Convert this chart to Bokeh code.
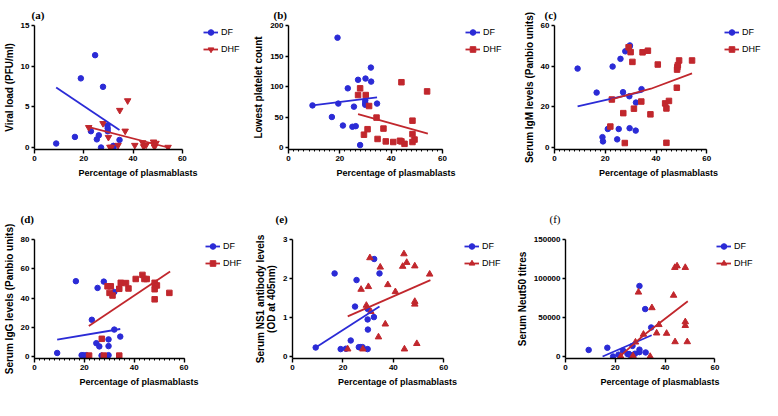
from bokeh.plotting import figure
from bokeh.models import (Range1d, SingleIntervalTicker, BasicTickFormatter,
                          Legend, LegendItem)
from bokeh.layouts import row, column
from bokeh.embed import file_html
from bokeh.resources import INLINE

# ---------------- data ----------------
x_label = "Percentage of plasmablasts"
series_names = ["DF", "DHF"]
x_ticks_max = 60

# (a) viral load
a_df_x = [8.8, 16.4, 18.8, 22.9, 24.6, 25.3, 26.1, 27.0, 27.8, 29.6, 29.7, 29.7, 32.0, 32.1, 34.5]
a_df_y = [0.49, 1.3, 8.5, 2.0, 11.35, 1.0, 1.5, 0.0, 7.46, 2.7, 2.35, 2.0, 0.2, 0.0, 0.93]
a_df_fit_x = [8.8, 34.5]
a_df_fit_y = [7.38, 2.15]
a_dhf_x = [22.0, 27.8, 30.0, 30.6, 31.2, 33.9, 34.6, 36.8, 37.8, 40.7, 43.9, 44.3, 45.3, 48.3, 48.4, 48.7, 49.3, 54.2]
a_dhf_y = [2.47, 2.96, 1.26, 0.05, 0.05, 0.28, 4.58, 2.03, 5.76, 0.28, 0.6, 0.12, 0.32, 0.69, 0.4, 0.08, 0.53, 0.04]
a_dhf_fit_x = [21.7, 54.2]
a_dhf_fit_y = [2.55, 0.0]

# (b) lowest platelet count
b_df_x = [9.35, 16.9, 19.1, 19.4, 21.2, 23.1, 24.9, 25.5, 26.2, 27.1, 27.9, 30.0, 29.9, 29.9, 29.9, 32.1, 32.2, 34.5]
b_df_y = [69, 50, 180, 72, 36, 97, 34, 67, 35, 111, 4, 113, 77, 73, 70, 131, 108, 72]
b_df_fit_x = [9.35, 34.5]
b_df_fit_y = [69.2, 82.2]
b_dhf_x = [27.1, 27.9, 29.4, 30.1, 30.8, 31.4, 34.3, 34.7, 37.0, 37.9, 40.8, 44.0, 43.4, 44.0, 45.2, 48.3, 48.3, 48.3, 49.1, 54.0]
b_dhf_y = [86, 97, 21, 86, 30, 68, 49, 14, 31, 10, 9, 107, 11, 10, 6, 44, 22, 9, 13, 92]
b_dhf_fit_x = [27.1, 54.3]
b_dhf_fit_y = [54.6, 22.7]

# (c) serum IgM
c_df_x = [9.1, 16.6, 18.9, 19.1, 21.0, 22.9, 24.7, 25.3, 26.0, 27.0, 27.9, 29.5, 29.6, 29.7, 29.6, 32.1, 32.0, 34.3]
c_df_y = [38.8, 27.0, 5.1, 3.0, 9.1, 39.8, 4.0, 9.1, 43.6, 27.2, 47.3, 25.2, 49.6, 50.2, 9.5, 22.1, 8.3, 28.7]
c_df_fit_x = [9.1, 34.7]
c_df_fit_y = [20.2, 27.5]
c_dhf_x = [22.0, 22.6, 27.1, 27.7, 29.2, 30.0, 30.7, 31.3, 34.2, 34.7, 36.8, 37.8, 40.7, 43.6, 44.1, 44.1, 45.1, 48.2, 48.3, 48.4, 48.6, 49.1, 54.2]
c_dhf_y = [10.3, 23.6, 16.9, 2.2, 49.3, 46.9, 42.1, 19.1, 22.6, 46.8, 47.6, 16.3, 40.8, 21.7, 19.2, 2.3, 22.9, 29.4, 38.3, 39.5, 40.5, 42.8, 42.8]
c_dhf_fit_x = [22.0, 38.0, 54.2]
c_dhf_fit_y = [23.5, 28.9, 36.5]

# (d) serum IgG
d_df_x = [9.1, 16.6, 18.9, 19.6, 20.8, 23.0, 24.8, 25.3, 26.0, 26.9, 27.8, 29.7, 29.7, 29.7, 32.0, 32.0, 34.4]
d_df_y = [2.4, 51.5, 0.9, 0.9, 0.9, 25.1, 9.1, 46.9, 6.9, 0.6, 51.2, 11.7, 7.1, 0.9, 44.1, 18.4, 13.6]
d_df_fit_x = [9.1, 34.4]
d_df_fit_y = [11.5, 18.8]
d_dhf_x = [21.9, 27.0, 27.8, 29.3, 30.1, 30.6, 31.3, 34.0, 34.6, 34.0, 36.7, 37.7, 40.6, 43.3, 44.1, 45.0, 48.2, 48.4, 49.1, 48.2, 48.2, 54.1]
d_dhf_y = [0.6, 12.1, 0.6, 48.0, 43.5, 48.0, 41.7, 46.3, 50.4, 0.6, 50.2, 46.5, 53.0, 55.8, 53.0, 53.0, 50.4, 48.6, 48.6, 46.0, 39.1, 43.5]
d_dhf_fit_x = [21.8, 54.4]
d_dhf_fit_y = [20.8, 58.2]

# (e) serum NS1 antibody
e_df_x = [9.2, 16.7, 19.1, 21.2, 23.1, 24.8, 25.4, 26.3, 27.0, 27.8, 29.8, 29.8, 29.8, 29.9, 32.3, 32.4, 34.5]
e_df_y = [0.23, 2.13, 0.19, 0.2, 0.41, 1.28, 1.96, 0.24, 0.24, 0.24, 0.19, 1.22, 0.95, 0.69, 1.01, 2.5, 2.13]
e_df_fit_x = [9.2, 34.5]
e_df_fit_y = [0.23, 1.28]
e_dhf_x = [21.9, 27.2, 27.9, 29.3, 30.1, 30.7, 31.1, 34.1, 34.8, 36.8, 37.8, 40.8, 43.7, 44.2, 45.3, 44.4, 48.5, 48.5, 48.5, 49.3, 54.4]
e_dhf_y = [0.19, 1.72, 0.19, 1.31, 1.79, 2.53, 1.15, 0.5, 2.29, 0.83, 1.84, 1.66, 2.31, 2.63, 2.41, 0.19, 2.32, 1.41, 1.34, 0.33, 2.11]
e_dhf_fit_x = [21.9, 54.7]
e_dhf_fit_y = [1.03, 1.96]

# (f) serum Neut50
f_df_x = [9.3, 16.8, 19.1, 21.3, 23.1, 24.9, 25.5, 25.9, 26.9, 27.9, 29.7, 29.7, 29.7, 32.0, 32.2, 34.4]
f_df_y = [8400, 11200, 0, 2400, 7600, 3200, 3200, 2000, 13600, 3600, 90400, 8800, 5600, 60800, 5200, 37200]
f_df_fit_x = [14.9, 34.6]
f_df_fit_y = [0, 27200]
f_dhf_x = [22.2, 27.1, 28.1, 29.3, 31.3, 34.0, 34.7, 36.6, 37.5, 40.6, 43.4, 44.0, 43.9, 44.8, 48.1, 48.1, 48.1, 48.9]
f_dhf_y = [0, 800, 18400, 82400, 28400, 0, 62400, 30000, 40800, 29600, 78400, 18800, 114000, 116000, 114000, 44400, 39600, 18800]
f_dhf_fit_x = [22.5, 31.5, 49.1]
f_dhf_fit_y = [2000, 27600, 70800]

# ---------------- styling ----------------
BLUE = "#2b2bd6"
RED = "#c1272d"
FONT = "Liberation Sans"
PAD = 2  # px of room below y=0 so markers on zero are not clipped
ROW1 = dict(ah=122, t=25, b=44, so=10)
ROW2 = dict(ah=117, t=46, b=42, so=29)


def panel(letter, ylabel, ymax, ystep, df, dhf, dhf_marker, g, rw, minor,
          letter_style="bold"):
    aw, ah = g["aw"], rw["ah"]
    R = g["R"]                 # extra frame width on the right that holds the legend
    fw, fh = aw + R, ah + PAD
    p = figure(width=g["l"] + fw + g["r"], height=rw["t"] + fh + rw["b"],
               x_range=Range1d(0, x_ticks_max * (aw + R) / aw),
               y_range=Range1d(-ymax * PAD / ah, ymax),
               min_border_left=g["l"], min_border_right=g["r"],
               min_border_top=rw["t"], min_border_bottom=rw["b"],
               toolbar_location=None, output_backend="svg")
    # panel letter as a left-aligned title
    p.title.text = letter
    p.title.align = "left"
    p.title.offset = g["lx"]
    p.title.standoff = rw["so"]
    p.title.text_font = "Liberation Serif"
    p.title.text_font_style = letter_style
    p.title.text_font_size = "11px"
    p.title.text_color = "black"
    p.outline_line_color = None
    p.xgrid.visible = False
    p.ygrid.visible = False
    p.background_fill_color = "white"
    p.border_fill_color = "white"

    s1 = p.scatter(df[0], df[1], marker="circle", size=5.5, color=BLUE)
    dsize = 5.5 if dhf_marker == "square" else 6.5
    s2 = p.scatter(dhf[0], dhf[1], marker=dhf_marker, size=dsize, color=RED)
    l1 = p.line(df[2], df[3], line_color=BLUE, line_width=1.8)
    l2 = p.line(dhf[2], dhf[3], line_color=RED, line_width=1.8)

    xa = p.xaxis[0]
    ya = p.yaxis[0]
    xa.ticker = SingleIntervalTicker(interval=20, num_minor_ticks=10 if minor else 0)
    ya.ticker = SingleIntervalTicker(interval=ystep, num_minor_ticks=0)
    xa.bounds = (0, x_ticks_max)
    for ax in (xa, ya):
        ax.formatter = BasicTickFormatter(use_scientific=False)
        ax.axis_line_color = "black"
        ax.axis_line_width = 1.4
        ax.major_tick_line_color = "black"
        ax.major_tick_line_width = 1.4
        ax.major_tick_in = 0
        ax.minor_tick_in = 0
        ax.minor_tick_out = 2
        ax.minor_tick_line_width = 1
        ax.minor_tick_line_color = "black"
        ax.major_label_text_font = FONT
        ax.major_label_text_font_style = "bold"
        ax.major_label_text_font_size = "8px"
        ax.major_label_text_color = "black"
        ax.major_label_standoff = 2
        ax.axis_label_text_font = FONT
        ax.axis_label_text_font_style = "bold"
        ax.axis_label_text_color = "black"
    if not minor:
        xa.minor_tick_line_color = None
    ya.minor_tick_line_color = None
    xa.major_tick_out = 4
    ya.major_tick_out = 3
    xa.axis_label = x_label
    xa.axis_label_text_font_size = "9px"
    xa.axis_label_standoff = 4
    ya.axis_label = ylabel
    ya.axis_label_text_font_size = "10px"
    ya.axis_label_standoff = 3
    ya.axis_label_text_line_height = 1.0

    # legend anchored to the top-right corner of the (widened) frame
    leg = Legend(items=[LegendItem(label=series_names[0], renderers=[l1, s1]),
                        LegendItem(label=series_names[1], renderers=[l2, s2])],
                 location="top_right",
                 glyph_width=15, glyph_height=14, label_height=14,
                 label_standoff=3, spacing=3, padding=1, margin=0,
                 border_line_color=None, background_fill_alpha=0,
                 label_text_font=FONT, label_text_font_size="9px",
                 label_text_color="black")
    p.add_layout(leg)
    return p


pa = panel("(a)", "Viral load (PFU/ml)", 15, 5,
           (a_df_x, a_df_y, a_df_fit_x, a_df_fit_y),
           (a_dhf_x, a_dhf_y, a_dhf_fit_x, a_dhf_fit_y), "inverted_triangle",
           dict(aw=150, R=60, l=31, r=9, lx=-3), ROW1, False)
pb = panel("(b)", "Lowest platelet count", 200, 50,
           (b_df_x, b_df_y, b_df_fit_x, b_df_fit_y),
           (b_dhf_x, b_dhf_y, b_dhf_fit_x, b_dhf_fit_y), "square",
           dict(aw=154, R=61, l=38, r=17, lx=-15), ROW1, True)
pc = panel("(c)", "Serum IgM levels (Panbio units)", 60, 20,
           (c_df_x, c_df_y, c_df_fit_x, c_df_fit_y),
           (c_dhf_x, c_dhf_y, c_dhf_fit_x, c_dhf_fit_y), "square",
           dict(aw=153, R=56, l=33, r=0, lx=-10), ROW1, True)
pd_ = panel("(d)", "Serum IgG levels (Panbio units)", 80, 20,
            (d_df_x, d_df_y, d_df_fit_x, d_df_fit_y),
            (d_dhf_x, d_dhf_y, d_dhf_fit_x, d_dhf_fit_y), "square",
            dict(aw=151, R=60, l=32, r=9, lx=-14), ROW2, True)
pe = panel("(e)", "Serum NS1 antibody levels\n(OD at 405nm)", 3, 1,
           (e_df_x, e_df_y, e_df_fit_x, e_df_fit_y),
           (e_dhf_x, e_dhf_y, e_dhf_fit_x, e_dhf_fit_y), "triangle",
           dict(aw=152, R=59, l=39, r=11, lx=-17), ROW2, False)
pf = panel("(f)", "Serum Neut50 titres", 150000, 50000,
           (f_df_x, f_df_y, f_df_fit_x, f_df_fit_y),
           (f_dhf_x, f_dhf_y, f_dhf_fit_x, f_dhf_fit_y), "triangle",
           dict(aw=151, R=40, l=50, r=8, lx=-16), ROW2, False,
           letter_style="normal")

layout = column(row(pa, pb, pc, spacing=0), row(pd_, pe, pf, spacing=0), spacing=0)
open("out.html", "w").write(file_html(layout, INLINE))
